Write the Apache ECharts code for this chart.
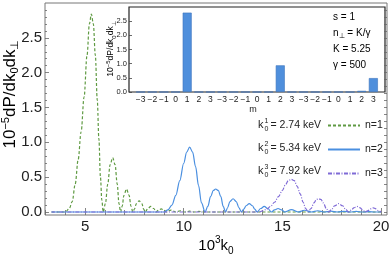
<!DOCTYPE html>
<html><head><meta charset="utf-8">
<script src="https://cdn.jsdelivr.net/npm/echarts@6/dist/echarts.min.js"></script>
<style>html,body{margin:0;padding:0;background:#fff}#c{width:390px;height:256px}</style>
</head><body><div id="c"></div>
<script>
// ---- data ----
// harmonic n=1 (green dashed): [10^3 k0, 10^-5 dP/dk0dk⊥]
const n1 = [[3.3,0],[4.0,0],[4.2,0.05],[4.35,0.15],[4.5,0.4],[4.65,0.75],[4.8,1.15],[4.95,1.65],[5.1,2.25],[5.22,2.7],[5.32,2.84],[5.42,2.7],[5.52,2.25],[5.62,1.6],[5.7,1.05],[5.78,0.5],[5.85,0.17],[5.92,0],
  [6.03,0.12],[6.15,0.4],[6.27,0.68],[6.4,0.78],[6.52,0.68],[6.63,0.4],[6.72,0.12],[6.8,0],
  [6.88,0.08],[6.97,0.24],[7.1,0.33],[7.23,0.24],[7.33,0.08],[7.42,0],
  [7.5,0.04],[7.6,0.12],[7.74,0.16],[7.88,0.12],[7.97,0.04],[8.05,0],
  [8.18,0.05],[8.33,0.08],[8.48,0.05],[8.6,0],
  [8.73,0.03],[8.86,0.045],[8.99,0.03],[9.12,0],
  [9.36,0.028],[9.6,0],[9.83,0.018],[10.06,0],[10.3,0.012],[10.54,0],[10.77,0.009],[11.0,0],[20,0]];
// harmonic n=2 (blue solid)
const n2 = [[3.3,0],[9.0,0],[9.2,0.03],[9.4,0.1],[9.6,0.24],[9.8,0.45],[10.0,0.7],[10.15,0.86],[10.3,0.93],[10.45,0.86],[10.6,0.65],[10.75,0.38],[10.9,0.13],[11.08,0],
  [11.22,0.08],[11.36,0.22],[11.5,0.31],[11.62,0.33],[11.75,0.31],[11.88,0.22],[12.0,0.08],[12.12,0],
  [12.22,0.06],[12.34,0.15],[12.5,0.19],[12.66,0.15],[12.8,0.06],[12.92,0],
  [13.04,0.04],[13.16,0.09],[13.32,0.12],[13.48,0.09],[13.6,0.04],[13.72,0],
  [13.9,0.05],[14.08,0.08],[14.26,0.05],[14.44,0],
  [14.6,0.03],[14.78,0.05],[14.96,0.03],[15.12,0],
  [15.46,0.035],[15.8,0],[16.13,0.025],[16.46,0],[16.79,0.018],[17.12,0],[17.45,0.013],[17.78,0],
  [18.1,0.01],[18.42,0],[18.74,0.008],[19.06,0],[19.38,0.006],[19.7,0],[20,0]];
// harmonic n=3 (purple dash-dot)
const n3 = [[3.3,0],[13.8,0],[14.0,0.015],[14.2,0.04],[14.4,0.08],[14.6,0.14],[14.8,0.22],[15.0,0.31],[15.15,0.39],[15.3,0.45],[15.45,0.47],[15.6,0.45],[15.75,0.37],[15.9,0.26],[16.05,0.14],[16.18,0.05],[16.3,0],
  [16.45,0.05],[16.6,0.13],[16.72,0.18],[16.82,0.19],[16.95,0.18],[17.08,0.13],[17.22,0.05],[17.35,0],
  [17.5,0.04],[17.65,0.09],[17.85,0.12],[18.05,0.09],[18.2,0.04],[18.35,0],
  [18.5,0.03],[18.62,0.06],[18.78,0.08],[18.94,0.06],[19.06,0.03],[19.2,0],
  [19.34,0.02],[19.46,0.045],[19.6,0.06],[19.74,0.045],[19.86,0.02],[20,0]];
const seriesNames = ['n=1','n=2','n=3'];
const k0Values = ['2.74','5.34','7.92'];
// inset: m = -3..3 for each harmonic (padded with blanks at both ends)
const insetCats = ['', '−3','−2','−1','0','1','2','3', '−3','−2','−1','0','1','2','3', '−3','−2','−1','0','1','2','3', ''];
const insetVals = [null, 0,0,0,0,2.8,0,0, 0,0,0,0,0,0.94,0, 0,0,0,0,0,0.04,0.49, null];
const xMajor = [5,10,15,20];
const xMinor = [3,4,6,7,8,9,11,12,13,14,16,17,18,19];
const yMajor = [0,0.5,1,1.5,2,2.5];
const yMinor = [0.1,0.2,0.3,0.4,0.6,0.7,0.8,0.9,1.1,1.2,1.3,1.4,1.6,1.7,1.8,1.9,2.1,2.2,2.3,2.4,2.6,2.7,2.8,2.9];
const insetYTicks = [0,0.5,1,1.5,2,2.5];
const notes = ['s = 1','n⊥ = K/γ','K = 5.25','γ = 500'];

const FF = '"Liberation Sans", Arial, sans-serif';
const colors = ['#5f9a42','#4a8fe0','#7f6ad6'];
const chart = echarts.init(document.getElementById('c'), null, {renderer:'canvas'});

const frameAx = (extra) => Object.assign({
  gridIndex:0, axisLine:{show:false}, splitLine:{show:false}, axisLabel:{show:false},
  axisTick:{show:true, inside:true, length:3, lineStyle:{color:'#666', width:0.8}}
}, extra);

const mkRich = (f, s, lh) => ({
  n:{fontSize:f, lineHeight:lh, fontFamily:FF, color:'#222'},
  sp:{fontSize:s, lineHeight:Math.round(s*1.3), verticalAlign:'top', fontFamily:FF, color:'#222'},
  sb:{fontSize:s, lineHeight:Math.round(s*1.2), verticalAlign:'bottom', fontFamily:FF, color:'#222'}
});
const richYTitle = mkRich(17, 11, 20);
const richXTitle = mkRich(15, 10, 21);
const richSmall = mkRich(8.5, 6, 12);
const richNote = {
  n:{fontSize:10, lineHeight:14, fontFamily:FF, color:'#222'},
  sb:{fontSize:7, lineHeight:8, verticalAlign:'bottom', fontFamily:FF, color:'#222'}
};

const graphics = [
  {type:'text', x:10, y:94, rotation:Math.PI/2, z:10,
   style:{text:'{n|10}{sp|−5}{n|dP/dk}{sb|0}{n|dk}{sb|⊥}', rich:richYTitle, align:'center', verticalAlign:'middle'}},
  {type:'text', x:216, y:246, z:10,
   style:{text:'{n|10}{sp|3}{n|k}{sb|0}', rich:richXTitle, align:'center', verticalAlign:'middle'}},
  {type:'text', x:111, y:49, rotation:Math.PI/2, z:10,
   style:{text:'{n|10}{sp|−5}{n|dP/dk}{sb|0}{n|dk}{sb|⊥}', rich:richSmall, align:'center', verticalAlign:'middle'}},
  {type:'text', x:253, y:110, z:10,
   style:{text:'m', font:'9px '+FF, fill:'#222', align:'center', verticalAlign:'middle'}},
  {type:'text', x:333, y:17, z:10, style:{text:'{n|'+notes[0]+'}', rich:richNote, verticalAlign:'middle'}},
  {type:'text', x:333, y:33, z:10, style:{text:'{n|n}{sb|⊥}{n|'+notes[1].slice(2)+'}', rich:richNote, verticalAlign:'middle'}},
  {type:'text', x:333, y:49, z:10, style:{text:'{n|'+notes[2]+'}', rich:richNote, verticalAlign:'middle'}},
  {type:'text', x:333, y:65, z:10, style:{text:'{n|'+notes[3]+'}', rich:richNote, verticalAlign:'middle'}}
];
const rowY = [125,148,171];
for (let i=0;i<3;i++){
  graphics.push({type:'text', x:258, y:rowY[i], z:10, style:{text:'k', font:'11px '+FF, fill:'#222', verticalAlign:'middle'}});
  graphics.push({type:'text', x:264.5, y:rowY[i]-4, z:10, style:{text:String(i+1), font:'7px '+FF, fill:'#222', verticalAlign:'middle'}});
  graphics.push({type:'text', x:264.5, y:rowY[i]+4, z:10, style:{text:'0', font:'7px '+FF, fill:'#222', verticalAlign:'middle'}});
  graphics.push({type:'text', x:321, y:rowY[i], z:10, style:{text:'= '+k0Values[i]+' keV', font:'10.5px '+FF, fill:'#222', align:'right', verticalAlign:'middle'}});
}

const lineTypes = [[3,2],'solid',[4,1.5,1,1.5]];
const mkLine = (i, data) => ({
  type:'line', name:seriesNames[i], xAxisIndex:0, yAxisIndex:0, data:data,
  smooth:0.35, smoothMonotone:'x', symbol:'none', showSymbol:false,
  lineStyle:{color:colors[i], width:1.2, type:lineTypes[i]}, itemStyle:{color:colors[i]},
  z: 3+i
});

chart.setOption({
  animation:false,
  backgroundColor:'#fff',
  grid:[
    {left:45, top:3, width:342, height:212, show:true, borderColor:'#777', borderWidth:1, backgroundColor:'transparent', outerBoundsMode:'none', containLabel:false},
    {left:129, top:7, width:256, height:85, show:true, borderColor:'#222', borderWidth:1.2, backgroundColor:'#fff', outerBoundsMode:'none', containLabel:false}
  ],
  legend:{
    show:true, orient:'vertical', left:327, top:120, itemWidth:32, itemHeight:10, itemGap:13,
    data:seriesNames, padding:0, selectedMode:false,
    itemStyle:{opacity:0, borderWidth:0},
    textStyle:{fontSize:10.5, fontFamily:FF, color:'#222', padding:[0,0,0,0]}
  },
  xAxis:[
    {type:'value', gridIndex:0, position:'bottom', min:2.97, max:20.3,
     axisLine:{show:false}, splitLine:{show:false},
     axisTick:{show:true, inside:true, length:4, customValues:xMajor, lineStyle:{color:'#666', width:0.8}},
     axisLabel:{show:true, customValues:xMajor, fontSize:15, fontFamily:FF, color:'#222', margin:4}},
    frameAx({type:'value', position:'bottom', min:2.97, max:20.3, axisTick:{show:true, inside:true, length:2, customValues:xMinor, lineStyle:{color:'#666', width:0.8}}}),
    frameAx({type:'value', position:'top', min:2.97, max:20.3, axisTick:{show:true, inside:true, length:3, customValues:xMajor.concat(xMinor), lineStyle:{color:'#666', width:0.8}}}),
    {type:'category', gridIndex:1, data:insetCats, boundaryGap:false,
     axisLine:{show:false}, axisTick:{show:false}, splitLine:{show:false},
     axisLabel:{show:true, interval:0, fontSize:8.5, fontFamily:FF, color:'#222', margin:3}}
  ],
  yAxis:[
    {type:'value', gridIndex:0, position:'left', min:-0.043, max:3.0,
     axisLine:{show:false}, splitLine:{show:false},
     axisTick:{show:true, inside:true, length:4, customValues:yMajor, lineStyle:{color:'#666', width:0.8}},
     axisLabel:{show:true, customValues:yMajor, fontSize:15, fontFamily:FF, color:'#222', margin:3,
       formatter:v=>v.toFixed(1)}},
    frameAx({type:'value', position:'left', min:-0.043, max:3.0, axisTick:{show:true, inside:true, length:2, customValues:yMinor, lineStyle:{color:'#666', width:0.8}}}),
    frameAx({type:'value', position:'right', min:-0.043, max:3.0, axisTick:{show:true, inside:true, length:3, customValues:yMajor.concat(yMinor), lineStyle:{color:'#666', width:0.8}}}),
    {type:'value', gridIndex:1, min:0, max:3.0,
     axisLine:{show:false}, splitLine:{show:false},
     axisTick:{show:true, inside:true, length:3, customValues:insetYTicks, lineStyle:{color:'#444', width:0.8}},
     axisLabel:{show:true, customValues:insetYTicks, fontSize:7.5, fontFamily:FF, color:'#222', margin:2,
       formatter:v=>v.toFixed(1)}}
  ],
  series:[
    mkLine(0,n1), mkLine(1,n2), mkLine(2,n3),
    {type:'bar', xAxisIndex:3, yAxisIndex:3, data:insetVals, barWidth:9,
     itemStyle:{color:'#4f8fdc', borderColor:'#3d74bd', borderWidth:0.6}, z:5}
  ],
  graphic:graphics
});
</script></body></html>
